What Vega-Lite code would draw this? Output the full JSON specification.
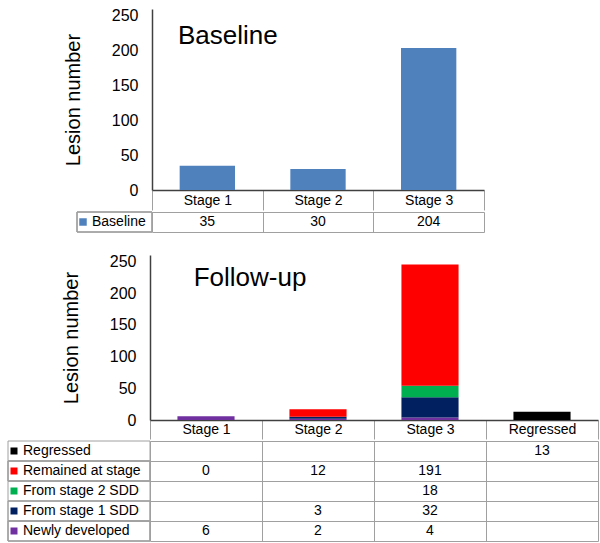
{
  "$schema": "https://vega.github.io/schema/vega-lite/v6.json",
  "padding": {"left": 7, "top": 7, "right": 0, "bottom": 0},
  "config": {
    "view": {"stroke": null},
    "font": "Liberation Sans",
    "concat": {"spacing": 0},
    "axis": {"labelColor": "black", "titleColor": "black", "labelFont": "Liberation Sans", "titleFont": "Liberation Sans"},
    "legend": {"labelFont": "Liberation Sans"}
  },
  "datasets": {
    "baseline": [
      {"stage": "Stage 1", "series": "Baseline", "count": 35},
      {"stage": "Stage 2", "series": "Baseline", "count": 30},
      {"stage": "Stage 3", "series": "Baseline", "count": 204}
    ],
    "followup": [
      {"stage": "Stage 1", "series": "Newly developed", "count": 6},
      {"stage": "Stage 1", "series": "Remained at stage", "count": 0},
      {"stage": "Stage 2", "series": "Newly developed", "count": 2},
      {"stage": "Stage 2", "series": "From stage 1 SDD", "count": 3},
      {"stage": "Stage 2", "series": "Remained at stage", "count": 12},
      {"stage": "Stage 3", "series": "Newly developed", "count": 4},
      {"stage": "Stage 3", "series": "From stage 1 SDD", "count": 32},
      {"stage": "Stage 3", "series": "From stage 2 SDD", "count": 18},
      {"stage": "Stage 3", "series": "Remained at stage", "count": 191},
      {"stage": "Regressed", "series": "Regressed", "count": 13}
    ]
  },
  "bounds": "full",
  "spacing": 20,
  "resolve": {"scale": {"color": "independent", "x": "independent", "y": "independent"}, "legend": {"color": "independent"}},
  "vconcat": [
    {
      "bounds": "full",
      "spacing": 0,
      "resolve": {"scale": {"color": "independent", "x": "independent", "y": "independent"}, "legend": {"color": "independent"}},
      "vconcat": [
        {
          "bounds": "flush",
          "spacing": 0,
          "resolve": {"scale": {"color": "independent", "x": "independent", "y": "independent"}, "legend": {"color": "independent"}},
          "hconcat": [
            {"width": 144, "height": 181, "data": {"values": [{}]}, "mark": {"type": "rect", "opacity": 0}},
            {
              "width": 332, "height": 181,
              "data": {"name": "baseline"},
              "layer": [
                {
                  "mark": {"type": "bar", "width": {"band": 0.5}, "color": "#4F81BD"},
                  "encoding": {
                    "x": {"field": "stage", "type": "nominal", "sort": null,
                      "scale": {"domain": ["Stage 1", "Stage 2", "Stage 3"], "paddingInner": 0, "paddingOuter": 0},
                      "axis": {"title": null, "labelAngle": 0, "labelFontSize": 14, "labelBaseline": "middle", "labelPadding": -10,
                        "ticks": true, "tickBand": "extent", "tickSize": 20, "tickColor": "#A0A0A0", "tickWidth": 1,
                        "domain": true, "domainColor": "#404040", "domainWidth": 1.5, "grid": false}},
                    "y": {"field": "count", "type": "quantitative", "title": "Lesion number",
                      "scale": {"domain": [0, 250]},
                      "axis": {"title": "Lesion number", "titleFontSize": 20, "titleFontWeight": "normal", "titlePadding": 28,
                        "values": [0, 50, 100, 150, 200, 250], "labelFontSize": 16, "labelPadding": 14, "labelOverlap": false,
                        "ticks": false, "tickSize": 0, "domain": true, "domainColor": "#404040", "domainWidth": 1.5, "grid": false}}
                  }
                },
                {
                  "data": {"values": [{"label": "Baseline"}]},
                  "mark": {"type": "text", "fontSize": 26, "align": "left", "baseline": "alphabetic", "color": "black"},
                  "encoding": {
                    "x": {"datum": "Stage 1", "type": "nominal", "bandPosition": 0.235,
                      "axis": {"title": null, "labelAngle": 0, "labelFontSize": 14, "labelBaseline": "middle", "labelPadding": -10,
                        "ticks": true, "tickBand": "extent", "tickSize": 20, "tickColor": "#A0A0A0", "tickWidth": 1,
                        "domain": true, "domainColor": "#404040", "domainWidth": 1.5, "grid": false}},
                    "y": {"datum": 210, "type": "quantitative", "title": "Lesion number",
                      "axis": {"title": "Lesion number", "titleFontSize": 20, "titleFontWeight": "normal", "titlePadding": 28,
                        "values": [0, 50, 100, 150, 200, 250], "labelFontSize": 16, "labelPadding": 14, "labelOverlap": false,
                        "ticks": false, "tickSize": 0, "domain": true, "domainColor": "#404040", "domainWidth": 1.5, "grid": false}},
                    "text": {"field": "label", "type": "nominal"}
                  }
                }
              ]
            }
          ]
        },
        {
          "bounds": "flush",
          "spacing": 0,
          "resolve": {"scale": {"color": "independent", "x": "independent", "y": "independent"}, "legend": {"color": "independent"}},
          "hconcat": [
            {"width": 69, "height": 20, "data": {"values": [{}]}, "mark": {"type": "rect", "opacity": 0}},
            {
              "width": 75, "height": 20,
              "data": {"name": "baseline"},
              "layer": [
                {
                  "mark": {"type": "rect", "fill": "transparent", "stroke": "#A0A0A0", "strokeWidth": 1},
                  "encoding": {"y": {"field": "series", "type": "nominal", "scale": {"domain": ["Baseline"], "padding": 0}, "axis": null}}
                },
                {
                  "mark": {"type": "point", "shape": "square", "filled": true, "opacity": 0},
                  "encoding": {
                    "y": {"field": "series", "type": "nominal", "axis": null},
                    "color": {"field": "series", "type": "nominal",
                      "scale": {"domain": ["Baseline"], "range": ["#4F81BD"]},
                      "legend": {"title": null, "orient": "top-left", "offset": 3, "padding": 0, "symbolType": "square", "symbolSize": 56,
                        "symbolOffset": -4, "symbolStrokeWidth": 0, "labelFontSize": 14, "labelColor": "black", "labelOffset": 2, "rowPadding": 6, "labelLimit": 200}}
                  }
                }
              ]
            },
            {
              "width": 332, "height": 20,
              "data": {"name": "baseline"},
              "mark": {"type": "text", "fontSize": 14, "color": "black"},
              "encoding": {
                "x": {"field": "stage", "type": "nominal", "scale": {"domain": ["Stage 1", "Stage 2", "Stage 3"], "padding": 0},
                  "axis": {"title": null, "labels": false, "ticks": false, "domain": false, "grid": true, "tickBand": "extent", "gridColor": "#A0A0A0", "gridWidth": 1}},
                "y": {"field": "series", "type": "nominal", "scale": {"domain": ["Baseline"], "padding": 0},
                  "axis": {"title": null, "labels": false, "ticks": false, "domain": false, "grid": true, "tickBand": "extent", "gridColor": "#A0A0A0", "gridWidth": 1}},
                "text": {"field": "count", "type": "quantitative"}
              }
            }
          ]
        }
      ]
    },
    {
      "bounds": "full",
      "spacing": 0,
      "resolve": {"scale": {"color": "independent", "x": "independent", "y": "independent"}, "legend": {"color": "independent"}},
      "vconcat": [
        {
          "bounds": "flush",
          "spacing": 0,
          "resolve": {"scale": {"color": "independent", "x": "independent", "y": "independent"}, "legend": {"color": "independent"}},
          "hconcat": [
            {"width": 142, "height": 165, "data": {"values": [{}]}, "mark": {"type": "rect", "opacity": 0}},
            {
              "width": 448, "height": 165,
              "data": {"name": "followup"},
              "layer": [
                {
                  "transform": [{"window": [{"op": "row_number", "as": "stackOrder"}]}],
                  "mark": {"type": "bar", "width": {"band": 0.51}},
                  "encoding": {
                    "x": {"field": "stage", "type": "nominal", "sort": null,
                      "scale": {"domain": ["Stage 1", "Stage 2", "Stage 3", "Regressed"], "paddingInner": 0, "paddingOuter": 0},
                      "axis": {"title": null, "labelAngle": 0, "labelFontSize": 14, "labelBaseline": "middle", "labelPadding": -9.5,
                        "ticks": true, "tickBand": "extent", "tickSize": 19, "tickColor": "#A0A0A0", "tickWidth": 1,
                        "domain": true, "domainColor": "#404040", "domainWidth": 1.5, "grid": false}},
                    "y": {"field": "count", "type": "quantitative", "stack": "zero", "title": "Lesion number",
                      "scale": {"domain": [0, 250]},
                      "axis": {"title": "Lesion number", "titleFontSize": 20, "titleFontWeight": "normal", "titlePadding": 28,
                        "values": [0, 50, 100, 150, 200, 250], "labelFontSize": 16, "labelPadding": 14, "labelOverlap": false,
                        "ticks": false, "tickSize": 0, "domain": true, "domainColor": "#404040", "domainWidth": 1.5, "grid": false}},
                    "color": {"field": "series", "type": "nominal",
                      "scale": {"domain": ["Regressed", "Remained at stage", "From stage 2 SDD", "From stage 1 SDD", "Newly developed"],
                        "range": ["#000000", "#FF0000", "#00B050", "#002060", "#7030A0"]},
                      "legend": null},
                    "order": {"field": "stackOrder", "type": "quantitative", "sort": "ascending"}
                  }
                },
                {
                  "data": {"values": [{"label": "Follow-up"}]},
                  "mark": {"type": "text", "fontSize": 26, "align": "left", "baseline": "alphabetic", "color": "black"},
                  "encoding": {
                    "x": {"datum": "Stage 1", "type": "nominal", "bandPosition": 0.39,
                      "axis": {"title": null, "labelAngle": 0, "labelFontSize": 14, "labelBaseline": "middle", "labelPadding": -9.5,
                        "ticks": true, "tickBand": "extent", "tickSize": 19, "tickColor": "#A0A0A0", "tickWidth": 1,
                        "domain": true, "domainColor": "#404040", "domainWidth": 1.5, "grid": false}},
                    "y": {"datum": 211, "type": "quantitative", "title": "Lesion number",
                      "axis": {"title": "Lesion number", "titleFontSize": 20, "titleFontWeight": "normal", "titlePadding": 28,
                        "values": [0, 50, 100, 150, 200, 250], "labelFontSize": 16, "labelPadding": 14, "labelOverlap": false,
                        "ticks": false, "tickSize": 0, "domain": true, "domainColor": "#404040", "domainWidth": 1.5, "grid": false}},
                    "text": {"field": "label", "type": "nominal"}
                  }
                }
              ]
            }
          ]
        },
        {
          "bounds": "flush",
          "spacing": 0,
          "resolve": {"scale": {"color": "independent", "x": "independent", "y": "independent"}, "legend": {"color": "independent"}},
          "hconcat": [
            {
              "width": 142, "height": 100,
              "data": {"name": "followup"},
              "layer": [
                {
                  "mark": {"type": "rect", "fill": "transparent", "stroke": "#A0A0A0", "strokeWidth": 1},
                  "encoding": {"y": {"field": "series", "type": "nominal",
                    "scale": {"domain": ["Regressed", "Remained at stage", "From stage 2 SDD", "From stage 1 SDD", "Newly developed"], "padding": 0}, "axis": null}}
                },
                {
                  "mark": {"type": "point", "shape": "square", "filled": true, "opacity": 0},
                  "encoding": {
                    "y": {"field": "series", "type": "nominal", "axis": null},
                    "color": {"field": "series", "type": "nominal",
                      "scale": {"domain": ["Regressed", "Remained at stage", "From stage 2 SDD", "From stage 1 SDD", "Newly developed"],
                        "range": ["#000000", "#FF0000", "#00B050", "#002060", "#7030A0"]},
                      "legend": {"title": null, "orient": "top-left", "offset": 3, "padding": 0, "symbolType": "square", "symbolSize": 49,
                        "symbolOffset": -4, "symbolStrokeWidth": 0, "labelFontSize": 14, "labelColor": "black", "labelOffset": 2, "rowPadding": 6, "labelLimit": 200}}
                  }
                }
              ]
            },
            {
              "width": 448, "height": 100,
              "data": {"name": "followup"},
              "mark": {"type": "text", "fontSize": 14, "color": "black"},
              "encoding": {
                "x": {"field": "stage", "type": "nominal", "scale": {"domain": ["Stage 1", "Stage 2", "Stage 3", "Regressed"], "padding": 0},
                  "axis": {"title": null, "labels": false, "ticks": false, "domain": false, "grid": true, "tickBand": "extent", "gridColor": "#A0A0A0", "gridWidth": 1}},
                "y": {"field": "series", "type": "nominal",
                  "scale": {"domain": ["Regressed", "Remained at stage", "From stage 2 SDD", "From stage 1 SDD", "Newly developed"], "padding": 0},
                  "axis": {"title": null, "labels": false, "ticks": false, "domain": false, "grid": true, "tickBand": "extent", "gridColor": "#A0A0A0", "gridWidth": 1}},
                "text": {"field": "count", "type": "quantitative"}
              }
            }
          ]
        }
      ]
    }
  ]
}
